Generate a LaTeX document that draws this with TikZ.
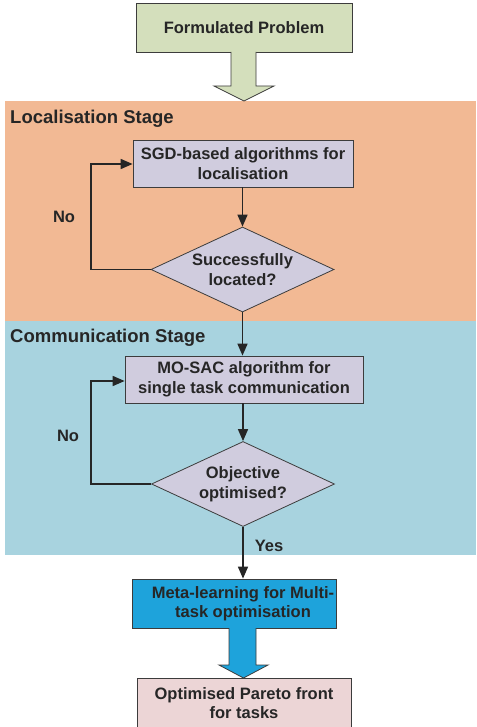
\documentclass[tikz,border=0pt]{standalone}
\usepackage{fontspec}
\setmainfont{Liberation Sans}
\usetikzlibrary{shapes.geometric,arrows.meta}
\definecolor{probgreen}{RGB}{212,223,188}
\definecolor{locorange}{RGB}{242,185,148}
\definecolor{commblue}{RGB}{168,211,223}
\definecolor{boxlilac}{RGB}{208,204,222}
\definecolor{metablue}{RGB}{30,163,219}
\definecolor{paretopink}{RGB}{236,213,214}
\definecolor{edgegray}{RGB}{60,60,60}
\begin{document}
\begin{tikzpicture}[x=1pt,y=-1pt,
  font=\fontsize{16.5}{19.5}\selectfont\bfseries,
  textcol/.style={text=black!85},
  procbox/.style={draw=edgegray,line width=0.8pt,align=center,inner sep=0pt,textcol},
  decision/.style={diamond,aspect=2.15,draw=edgegray,line width=0.8pt,fill=boxlilac,align=center,inner sep=0pt,
    minimum width=183pt,minimum height=85pt,textcol},
  flow/.style={line width=1.6pt,black!85,-{Triangle[length=12pt,width=10pt]}},
  stagelabel/.style={anchor=west,inner sep=0pt,textcol,font=\fontsize{18.5}{22}\selectfont\bfseries},
  blockarrow/.style={draw=edgegray,line width=0.8pt}
]
\clip (0,0) rectangle (476,727);
\fill[white] (0,0) rectangle (476,727);

% stage panels
\fill[locorange] (5,101) rectangle (476,321);
\fill[commblue] (5,321) rectangle (476,555);
\node[stagelabel] (locstage) at (10,118.5) {Localisation Stage};
\node[stagelabel] (commstage) at (10,337.5) {Communication Stage};

% start box and wide arrow
\node[procbox,fill=probgreen,minimum width=216pt,minimum height=49pt] (prob) at (244,27.5) {Formulated Problem};
\draw[blockarrow,fill=probgreen] (231,52) -- (231,86) -- (214,86) -- (244,101) -- (274,86) -- (256,86) -- (256,52);

% localisation stage
\node[procbox,fill=boxlilac,minimum width=220pt,minimum height=47pt] (sgd) at (243,163.5) {SGD-based algorithms for\\localisation};
\node[decision] (located) at (242.5,269.5) {Successfully\\located?};
\draw[flow] (sgd.south -| located.north) -- (located.north);
\coordinate (locturn) at (91,269.5);
\draw[flow] (located.west) -- (locturn) |- (sgd.west |- 0,164);
\node[textcol] (locno) at (64,217) {No};

% communication stage
\node[procbox,fill=boxlilac,minimum width=238pt,minimum height=47pt] (mosac) at (244,379.5) {MO-SAC algorithm for\\single task communication};
\node[decision] (optim) at (243,484) {Objective\\optimised?};
\draw[flow] (located.south) -- (located.south |- mosac.north);
\draw[flow] (optim.north |- mosac.south) -- (optim.north);
\coordinate (commturn) at (91,484);
\draw[flow] (optim.west) -- (commturn) |- (mosac.west |- 0,381);
\node[textcol] (commno) at (68,436) {No};

% multi-task stage
\node[procbox,fill=metablue,minimum width=204pt,minimum height=49pt] (meta) at (234,603.5) {};
\node[textcol,align=center,inner sep=0pt] (metatext) at (243,603.5) {Meta-learning for Multi-\\task optimisation};
\draw[flow] (optim.south) -- (optim.south |- meta.north);
\node[textcol] (yes) at (269,546) {Yes};
\draw[blockarrow,fill=metablue] (229,628) -- (229,665) -- (219,665) -- (243.5,678) -- (268,665) -- (256,665) -- (256,628);
\node[procbox,fill=paretopink,minimum width=214pt,minimum height=50pt] (pareto) at (244,703) {Optimised Pareto front\\for tasks};
\end{tikzpicture}
\end{document}
